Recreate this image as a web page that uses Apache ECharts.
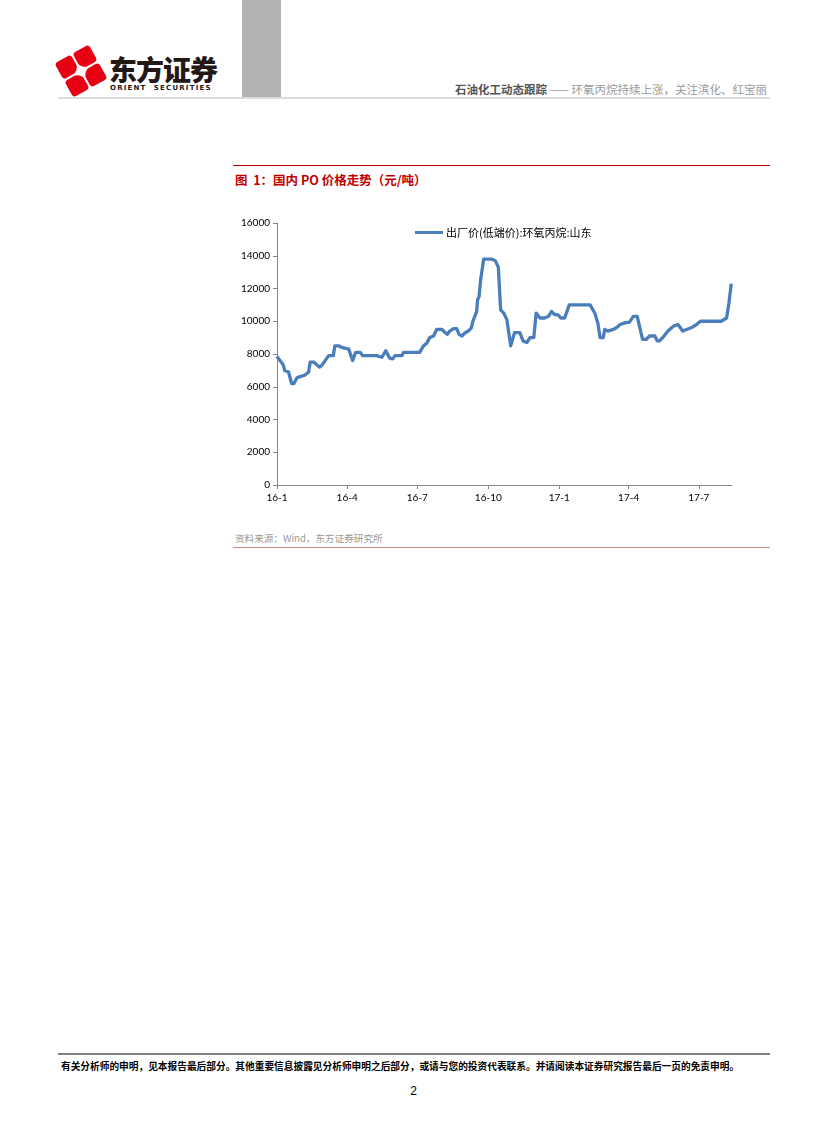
<!DOCTYPE html>
<html>
<head>
<meta charset="utf-8">
<script src="https://cdn.jsdelivr.net/npm/echarts@6/dist/echarts.min.js"></script>
<style>
  html, body { margin: 0; padding: 0; background: #fff; }
  #page { position: relative; width: 827px; height: 1122px; overflow: hidden; font-family: "Noto Sans CJK SC", sans-serif; }
  #chart { position: absolute; left: 0; top: 0; width: 827px; height: 1122px; }
  .abs { position: absolute; white-space: nowrap; }
</style>
</head>
<body>
<div id="page">
  <div class="abs" style="left:242px;top:0;width:39px;height:97px;background:#b3b3b3;"></div>
  <svg class="abs" style="left:54px;top:44px;" width="54" height="54" viewBox="0 0 54 54">
    <g transform="translate(27,27) rotate(-29)">
      <rect x="-19.5" y="-19.5" width="18.5" height="18.5" rx="3.5" ry="3.5" fill="#e60012"/>
      <rect x="1" y="-19.5" width="18.5" height="18.5" rx="3.5" ry="3.5" fill="#e60012"/>
      <rect x="-19.5" y="1" width="18.5" height="18.5" rx="3.5" ry="3.5" fill="#e60012"/>
      <rect x="1" y="1" width="18.5" height="18.5" rx="3.5" ry="3.5" fill="#e60012"/>
      <path d="M0,-11 Q1.2,-1.2 11,0 Q1.2,1.2 0,11 Q-1.2,1.2 -11,0 Q-1.2,-1.2 0,-11 Z" fill="#fff"/>
    </g>
  </svg>
  <div class="abs" style="left:109px;top:55px;font-size:28px;line-height:28px;font-weight:900;color:#231815;letter-spacing:-1px;">东方证券</div>
  <div class="abs" style="left:110px;top:85px;font-size:7px;line-height:7px;font-weight:bold;color:#231815;letter-spacing:1.2px;font-family:'DejaVu Sans',sans-serif;">ORIENT&nbsp;&nbsp;SECURITIES</div>
  <div class="abs" style="left:58px;top:97px;width:712px;height:2px;background:#dcdcdc;"></div>
  <div class="abs" style="right:60px;top:81px;font-size:11.5px;color:#999;"><span style="color:#555;font-weight:bold;">石油化工动态跟踪</span> —— 环氧丙烷持续上涨，关注滨化、红宝丽</div>

  <div class="abs" style="left:233px;top:165px;width:537px;height:1px;background:#b30000;"></div>
  <div class="abs" style="left:235px;top:170px;font-size:12.5px;font-weight:bold;color:#c00000;">图&nbsp; 1：国内 PO 价格走势（元/吨）</div>

  <div class="abs" style="left:235px;top:531px;font-size:9.6px;color:#999;">资料来源：Wind，东方证券研究所</div>
  <div class="abs" style="left:233px;top:547px;width:537px;height:1px;background:#d09090;"></div>

  <div class="abs" style="left:58px;top:1053px;width:712px;height:2px;background:#808080;"></div>
  <div class="abs" style="left:61px;top:1059px;font-size:9.7px;font-weight:bold;color:#000;">有关分析师的申明，见本报告最后部分。其他重要信息披露见分析师申明之后部分，或请与您的投资代表联系。并请阅读本证券研究报告最后一页的免责申明。</div>
  <div class="abs" style="left:0;width:827px;top:1084px;text-align:center;font-size:12px;color:#000;font-family:'Liberation Sans',sans-serif;">2</div>
  <div id="chart"></div>
</div>
<script>
var seriesName = '出厂价(低端价):环氧丙烷:山东';
var dates = [
  '2016-01-01','2016-01-09','2016-01-11','2016-01-16','2016-01-20','2016-01-23','2016-01-27','2016-01-30',
  '2016-02-06','2016-02-11','2016-02-13','2016-02-18','2016-02-25','2016-02-28','2016-03-05','2016-03-08',
  '2016-03-14','2016-03-16','2016-03-21','2016-03-25','2016-03-30','2016-04-03','2016-04-08','2016-04-12',
  '2016-04-18','2016-04-21','2016-05-09','2016-05-10','2016-05-16','2016-05-21','2016-05-26','2016-05-30',
  '2016-06-02','2016-06-11','2016-06-13','2016-07-04','2016-07-09','2016-07-13','2016-07-17','2016-07-22',
  '2016-07-26','2016-08-02','2016-08-06','2016-08-09','2016-08-12','2016-08-17','2016-08-21','2016-08-24',
  '2016-08-28','2016-09-01','2016-09-05','2016-09-09','2016-09-11','2016-09-16','2016-09-17','2016-09-19',
  '2016-09-21','2016-09-25','2016-10-05','2016-10-10','2016-10-14','2016-10-17','2016-10-21','2016-10-25',
  '2016-10-27','2016-10-30','2016-11-04','2016-11-11','2016-11-15','2016-11-20','2016-11-24','2016-11-29',
  '2016-12-02','2016-12-07','2016-12-13','2016-12-18','2016-12-22','2016-12-26','2016-12-30','2017-01-03',
  '2017-01-08','2017-01-14','2017-02-10','2017-02-16','2017-02-20','2017-02-23','2017-02-27','2017-03-01',
  '2017-03-05','2017-03-12','2017-03-16','2017-03-21','2017-03-27','2017-04-02','2017-04-07','2017-04-12',
  '2017-04-15','2017-04-19','2017-04-24','2017-04-28','2017-05-05','2017-05-08','2017-05-11','2017-05-16',
  '2017-05-22','2017-05-29','2017-06-04','2017-06-10','2017-06-15','2017-06-21','2017-06-28','2017-07-03',
  '2017-07-30','2017-08-06','2017-08-09','2017-08-12'
];
var prices = [
  7850,7350,7000,6900,6200,6200,6550,6600,
  6700,6900,7500,7500,7200,7300,7700,7900,
  7900,8500,8500,8400,8350,8300,7600,8100,
  8100,7900,7900,7800,7800,8200,7750,7700,
  7900,7900,8100,8100,8500,8650,9000,9100,
  9500,9500,9300,9200,9400,9550,9550,9200,
  9100,9300,9400,9600,10000,10600,11300,11500,
  12500,13800,13800,13700,13300,10700,10500,10100,
  10000,8500,9300,9300,8800,8700,9000,9000,
  10500,10200,10200,10300,10600,10400,10400,10200,
  10200,11000,11000,10500,9900,9000,9000,9500,
  9400,9500,9600,9800,9900,9950,10300,10300,
  9700,8900,8900,9100,9100,8800,8800,9050,
  9400,9700,9800,9400,9500,9600,9800,10000,
  10000,10200,11100,12300
];
var tickDates = ['2016-01-01','2016-04-01','2016-07-01','2016-10-01','2017-01-01','2017-04-01','2017-07-01'];
var tickLabels = ['16-1','16-4','16-7','16-10','17-1','17-4','17-7'];
var startDate = '2016-01-01';
var endDate = '2017-08-13';

// day number since start date (UTC-based to avoid DST)
function dayNum(s) {
  var p = s.split('-');
  var q = startDate.split('-');
  return Math.round((Date.UTC(+p[0], +p[1] - 1, +p[2]) - Date.UTC(+q[0], +q[1] - 1, +q[2])) / 86400000);
}
var tickValues = tickDates.map(dayNum);
var data = dates.map(function (d, i) { return [dayNum(d), prices[i]]; });

var chart = echarts.init(document.getElementById('chart'), null, { renderer: 'canvas' });
chart.setOption({
  animation: false,
  grid: { left: 277, top: 223, width: 455, height: 262, containLabel: false },
  legend: {
    left: 410, top: 222, itemWidth: 28, itemHeight: 3, icon: 'rect', itemGap: 4,
    textStyle: { fontSize: 11, color: '#000', fontFamily: 'Noto Sans CJK SC', padding: [0, 0, 0, -2] },
    data: [seriesName]
  },
  xAxis: {
    type: 'value',
    min: 0,
    max: dayNum(endDate),
    splitLine: { show: false },
    axisLine: { lineStyle: { color: '#868686', width: 1 } },
    axisTick: { show: true, length: 4, lineStyle: { color: '#868686' }, customValues: tickValues },
    axisLabel: {
      customValues: tickValues,
      fontSize: 10, color: '#000', fontFamily: 'Lato', margin: 8,
      formatter: function (v) {
        var i = tickValues.indexOf(v);
        return i >= 0 ? tickLabels[i] : '';
      }
    }
  },
  yAxis: {
    type: 'value', min: 0, max: 16000, interval: 2000,
    splitLine: { show: false },
    axisLine: { show: true, lineStyle: { color: '#868686', width: 1 } },
    axisTick: { show: true, length: 4, lineStyle: { color: '#868686' } },
    axisLabel: { fontSize: 10, color: '#000', fontFamily: 'Lato', margin: 7, formatter: function (v) { return String(v); } }
  },
  series: [{
    name: seriesName,
    type: 'line',
    data: data,
    showSymbol: false,
    symbol: 'none',
    lineStyle: { color: '#4a7ebb', width: 3.3, join: 'round' },
    itemStyle: { color: '#4a7ebb' }
  }]
});
</script>
</body>
</html>
